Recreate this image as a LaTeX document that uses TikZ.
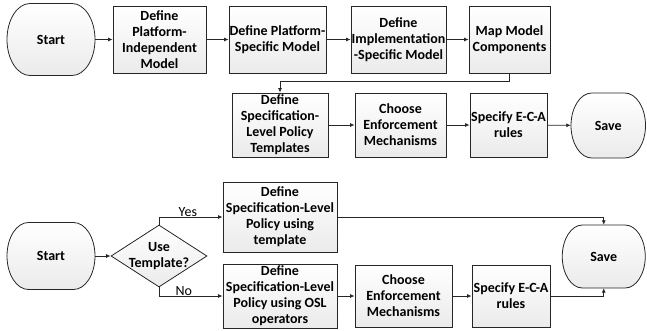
\documentclass[tikz,border=0pt]{standalone}
\usepackage{fontspec}
\setmainfont{Carlito}
\usetikzlibrary{arrows.meta,shapes.geometric}

\definecolor{edge}{HTML}{262626}

\tikzset{
  boxfont/.style={font=\fontsize{14}{16}\selectfont\bfseries},
  box/.style={rectangle, draw=edge, line width=0.8pt, top color=white,
    bottom color=black!8, align=center, inner sep=0.5pt, boxfont},
  decision/.style={diamond, draw=edge, line width=0.8pt, top color=white,
    bottom color=black!8, inner sep=0pt},
  termshape/.style={draw=edge, line width=0.8pt, top color=white, bottom color=black!8},
  termtext/.style={rectangle, align=center, inner sep=0.5pt, boxfont},
  link/.style={draw=edge, line width=0.8pt, -{Latex[length=4.5pt,width=4pt]}},
  choice/.style={font=\fontsize{14}{16}\selectfont, inner sep=0.5pt, above}
}

% terminal (start/end) symbol: name, centre x, centre y, width, height, text
\newcommand\terminal[6]{%
  \pgfmathsetmacro\trmL{#2-#4/2}%
  \pgfmathsetmacro\trmR{#2+#4/2}%
  \pgfmathsetmacro\trmT{#3-#5/2}%
  \pgfmathsetmacro\trmB{#3+#5/2}%
  \pgfmathsetmacro\trmRx{0.32*#5}%
  \pgfmathsetmacro\trmKx{0.4477*\trmRx}%
  \pgfmathsetmacro\trmKy{0.5523*#5/2}%
  \draw[termshape] (\trmL+\trmRx,\trmT) -- (\trmR-\trmRx,\trmT)
    .. controls (\trmR-\trmKx,\trmT) and (\trmR,#3-\trmKy) .. (\trmR,#3)
    .. controls (\trmR,#3+\trmKy) and (\trmR-\trmKx,\trmB) .. (\trmR-\trmRx,\trmB)
    -- (\trmL+\trmRx,\trmB)
    .. controls (\trmL+\trmKx,\trmB) and (\trmL,#3+\trmKy) .. (\trmL,#3)
    .. controls (\trmL,#3-\trmKy) and (\trmL+\trmKx,\trmT) .. (\trmL+\trmRx,\trmT) -- cycle;
  \node[termtext, minimum width=#4pt, minimum height=#5pt] (#1) at (#2,#3) {#6};%
}

\begin{document}
\begin{tikzpicture}[x=1pt,y=-1pt]
\useasboundingbox (0,0) rectangle (647,330);

% ---- model-driven policy flow ----
\terminal{startA}{51}{39.5}{88}{72}{Start}
\node[box, minimum width=93pt, minimum height=67pt] (pim) at (159.5,39.5)
  {Define\\Platform-\\Independent\\Model};
\node[box, minimum width=97pt, minimum height=67pt] (psm) at (277.5,39.5)
  {Define Platform-\\Specific Model};
\node[box, minimum width=95pt, minimum height=67pt] (ism) at (398.5,39.5)
  {Define\\Implementation\\-Specific Model};
\node[box, minimum width=81pt, minimum height=67pt] (map) at (509.5,39.5)
  {Map Model\\Components};

\node[box, minimum width=96pt, minimum height=64pt] (tpl) at (280,125)
  {Define\\Specification-\\Level Policy\\Templates};
\node[box, minimum width=91pt, minimum height=64pt] (enfA) at (400.5,125)
  {Choose\\Enforcement\\Mechanisms};
\node[box, minimum width=77pt, minimum height=64pt] (ecaA) at (508.5,125)
  {Specify E-C-A\\rules};
\terminal{saveA}{608.25}{125.5}{74.5}{65}{Save}

\draw[link] (startA) -- (pim);
\draw[link] (pim) -- (psm);
\draw[link] (psm) -- (ism);
\draw[link] (ism) -- (map);
\draw[link] (map.south) -- ++(0,8) -| (tpl.north);
\draw[link] (tpl) -- (enfA);
\draw[link] (enfA) -- (ecaA);
\draw[link] (ecaA) -- (saveA);

% ---- policy specification flow ----
\terminal{startB}{51}{256}{88}{67}{Start}
\node[decision, minimum width=96pt, minimum height=62pt, aspect=1.55] (dec) at (159,256) {};
\node[termtext] at (dec) {Use\\Template?};
\node[box, minimum width=114pt, minimum height=70pt] (usetpl) at (280,217)
  {Define\\Specification-Level\\Policy using\\template};
\node[box, minimum width=114pt, minimum height=64pt] (osl) at (280,296)
  {Define\\Specification-Level\\Policy using OSL\\operators};
\node[box, minimum width=97pt, minimum height=62pt] (enfB) at (403.5,296)
  {Choose\\Enforcement\\Mechanisms};
\node[box, minimum width=78pt, minimum height=62pt] (ecaB) at (511,296)
  {Specify E-C-A\\rules};
\terminal{saveB}{603.75}{256.5}{83}{63}{Save}

\draw[link] (startB) -- (dec);
\draw[link] (dec.north) |- node[choice, pos=0.727] {Yes} (usetpl.west);
\draw[link] (dec.south) |- node[choice, pos=0.695] {No} (osl.west);
\draw[link] (osl) -- (enfB);
\draw[link] (enfB) -- (ecaB);
\draw[link] (usetpl.east) -| (saveB.north);
\draw[link] (ecaB.east) -| (saveB.south);
\end{tikzpicture}
\end{document}
